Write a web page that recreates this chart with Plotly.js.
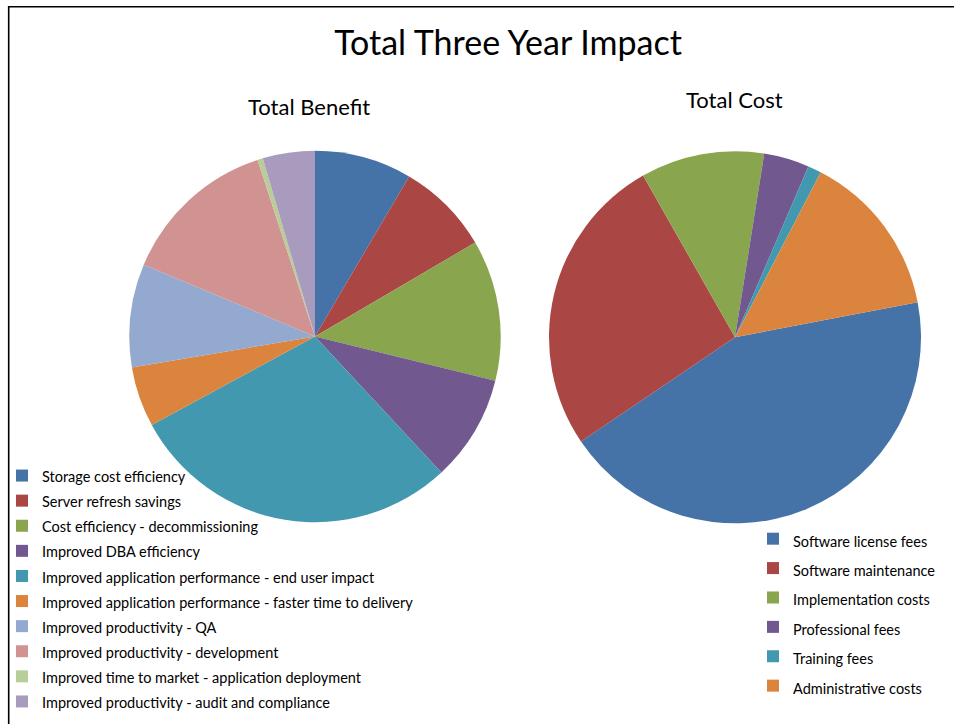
<!DOCTYPE html>
<html>
<head>
<meta charset="utf-8">
<script src="https://cdn.plot.ly/plotly-3.0.1.min.js"></script>
<style>
  html, body { margin: 0; padding: 0; background: #ffffff; }
  #chart { width: 954px; height: 724px; }
</style>
</head>
<body>
<div id="chart"></div>
<script>
// ---- data ----
const chartTitle = "Total Three Year Impact";
const benefitTitle = "Total Benefit";
const costTitle = "Total Cost";

const benefitLabels = [
  "Storage cost efficiency",
  "Server refresh savings",
  "Cost efficiency - decommissioning",
  "Improved DBA efficiency",
  "Improved application performance - end user impact",
  "Improved application performance - faster time to delivery",
  "Improved productivity - QA",
  "Improved productivity - development",
  "Improved time to market - application deployment",
  "Improved productivity - audit and compliance"
];
const benefitValues = [8.46, 8.10, 12.28, 9.25, 29.0, 5.25, 8.97, 13.69, 0.46, 4.54];
const benefitColors = ["#4572A7", "#AA4643", "#89A54E", "#71588F", "#4198AF",
                       "#DB843D", "#93A9CF", "#D19392", "#B9CD96", "#A99BBD"];

const costLabels = [
  "Software license fees",
  "Software maintenance",
  "Implementation costs",
  "Professional fees",
  "Training fees",
  "Administrative costs"
];
const costValues = [43.56, 26.25, 10.74, 3.94, 1.17, 14.35];
const costColors = ["#4572A7", "#AA4643", "#89A54E", "#71588F", "#4198AF", "#DB843D"];

// ---- layout helpers ----
const W = 954, H = 724;
const FONT = "Lato, 'Open Sans', sans-serif";
const px = v => v / W;
const py = v => 1 - v / H;
const legendLabel = l => '<span style="font-size:14.5px">' + l + '</span>';

const benefitTrace = {
  type: "pie",
  labels: benefitLabels.map(legendLabel),
  values: benefitValues,
  sort: false,
  direction: "clockwise",
  rotation: 0,
  textinfo: "none",
  hoverinfo: "none",
  marker: { colors: benefitColors, line: { width: 0 } },
  domain: { x: [px(129.3), px(500.7)], y: [py(522.2), py(150.8)] },
  legend: "legend"
};

const costTrace = {
  type: "pie",
  labels: costLabels.map(legendLabel),
  values: costValues,
  sort: false,
  direction: "clockwise",
  rotation: 79.1,
  textinfo: "none",
  hoverinfo: "none",
  marker: { colors: costColors, line: { width: 0 } },
  domain: { x: [px(549), px(921)], y: [py(523.3), py(151.3)] },
  legend: "legend2"
};

const layout = {
  width: W, height: H,
  margin: { l: 0, r: 0, t: 0, b: 0 },
  paper_bgcolor: "#ffffff",
  font: { family: FONT, color: "#000000" },
  title: {
    text: chartTitle,
    font: { family: FONT, size: 34, color: "#000000" },
    x: px(508), xanchor: "center",
    y: py(43), yanchor: "middle"
  },
  annotations: [
    { text: benefitTitle, xref: "paper", yref: "paper", x: px(308.5), y: py(106), xanchor: "center", yanchor: "middle",
      showarrow: false, font: { family: FONT, size: 22, color: "#000000" } },
    { text: costTitle, xref: "paper", yref: "paper", x: px(734), y: py(99), xanchor: "center", yanchor: "middle",
      showarrow: false, font: { family: FONT, size: 22, color: "#000000" } }
  ],
  legend: {
    x: px(2), xanchor: "left", y: py(458), yanchor: "top",
    font: { family: FONT, size: 17, color: "#000000" },
    bgcolor: "rgba(0,0,0,0)", itemwidth: 30, traceorder: "normal"
  },
  legend2: {
    x: px(753), xanchor: "left", y: py(519), yanchor: "top",
    font: { family: FONT, size: 20.3, color: "#000000" },
    bgcolor: "rgba(0,0,0,0)", itemwidth: 30, traceorder: "normal"
  },
  shapes: [
    { type: "line", xref: "paper", yref: "paper", x0: px(8.7), x1: px(8.7), y0: 0, y1: py(6), line: { color: "#000000", width: 1.6 } },
    { type: "line", xref: "paper", yref: "paper", x0: px(8), x1: 1, y0: py(6.7), y1: py(6.7), line: { color: "#000000", width: 1.6 } }
  ],
  showlegend: true
};

Plotly.newPlot("chart", [benefitTrace, costTrace], layout, { displayModeBar: false, staticPlot: true });
</script>
</body>
</html>
